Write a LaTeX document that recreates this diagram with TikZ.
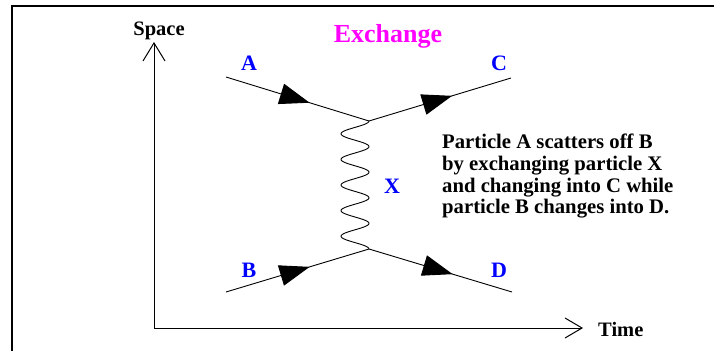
\documentclass[tikz,border=0pt]{standalone}
\usepackage{fontspec}
\setmainfont{Liberation Serif}
\usetikzlibrary{arrows.meta,decorations.markings}
\definecolor{lblblue}{RGB}{0,0,255}
\definecolor{ttlmag}{RGB}{255,0,255}
\begin{document}
\begin{tikzpicture}[x=1pt,y=-1pt,
  frameline/.style={line width=2pt},
  axisline/.style={line width=1pt,{Straight Barb[length=18pt,width=22pt,line width=1pt]}-{Straight Barb[length=17pt,width=20pt,line width=1pt]}},
  fermion/.style={line width=0.9pt,postaction={decorate},decoration={markings,mark=at position 0.585 with {\arrow{Triangle[length=30pt,width=21pt]}}}},
  boson/.style={line width=0.9pt},
  partlbl/.style={text=lblblue,font=\fontsize{22}{24}\selectfont\bfseries,inner sep=0pt,anchor=base},
  axlbl/.style={font=\fontsize{20.5}{22}\selectfont\bfseries,inner sep=0pt},
]
\useasboundingbox (0,0) rectangle (714,351);
% frame
\coordinate (fbl) at (12,351);
\coordinate (ftl) at (12,6);
\coordinate (ftr) at (714,6);
\draw[frameline] (fbl) -- (ftl) -- (ftr);
% axes
\coordinate (o) at (154,328);
\coordinate (ytop) at (154,42);
\coordinate (xend) at (583,328);
\draw[axisline] (ytop) -- (o) -- (xend);
\node[axlbl,anchor=base] (space) at (159,35) {Space};
\node[axlbl,anchor=base west] (time) at (598,336) {Time};
% title
\node[text=ttlmag,font=\fontsize{26}{28}\selectfont\bfseries,inner sep=0pt,anchor=base] (title) at (388,42) {Exchange};
% vertices and ends
\coordinate (a) at (226,77);
\coordinate (v1) at (369,121);
\coordinate (c) at (511,78);
\coordinate (b) at (226,292);
\coordinate (v2) at (369,249);
\coordinate (d) at (512,292);
\draw[fermion] (a) -- (v1);
\draw[fermion] (v1) -- (c);
\draw[fermion] (b) -- (v2);
\draw[fermion] (v2) -- (d);
% exchanged boson
\draw[boson,shift={(v1)}] plot[domain=0:128,samples=160,smooth] ({-14+14*cos(14.0625*\x)},{\x});
% labels
\node[partlbl] (la) at (249,70) {A};
\node[partlbl] (lc) at (499,70) {C};
\node[partlbl] (lb) at (249,277) {B};
\node[partlbl] (ld) at (499,277) {D};
\node[partlbl] (lx) at (392,193) {X};
% description
\node[font=\fontsize{20.7}{21.7}\selectfont\bfseries,align=left,inner sep=0pt,anchor=north west] (desc) at (442,134)
  {Particle A scatters off B\\by exchanging particle X\\and changing into C while\\particle B changes into D.};
\end{tikzpicture}
\end{document}
